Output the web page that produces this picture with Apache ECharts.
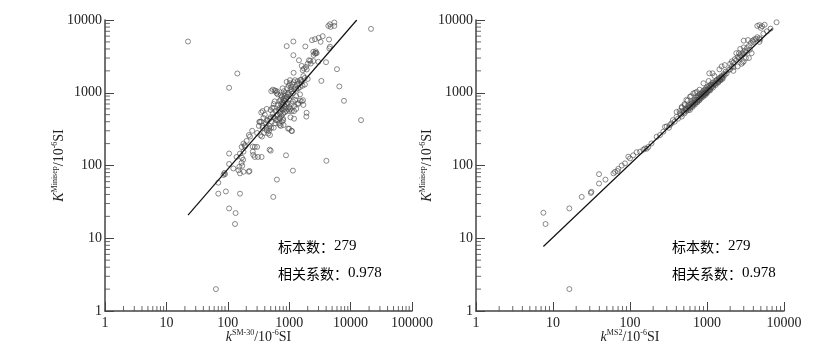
<!DOCTYPE html>
<html>
<head>
<meta charset="utf-8">
<script src="https://cdn.jsdelivr.net/npm/echarts@6/dist/echarts.min.js"></script>
<style>
html,body{margin:0;padding:0;background:#fff;}
#c{width:839px;height:358px;}
</style>
</head>
<body>
<div id="c"></div>
<script>
// ---- data ----
const leftPoints = [
[22.5,5060],[143,1840],[105,1170],[21500,7550],[14800,420],[4030,116],[7800,775],[6550,1220],[6000,2110],[3340,1455],[3980,2630],[64,2.0],[131,15.7],[134,22.2],[105,25.7],[70,41],[93,44],[158,41],[550,37],[630,64],[1150,85],[887,138],[480,165],[500,160],[1110,297],[1000,320],[1900,470],[1920,530],[1680,790],[910,4370],[1170,5060],[1170,3280],[1830,4330],
[4620,8750],[5430,9230],[4340,8300],[5430,8300],[4730,8050],[2350,5280],[2630,5450],[3020,5690],[3510,5990],[3250,5010],[4450,5390],[4510,4060],[4620,4290],[2470,3650],[2630,3460],[2730,3530],[2240,2520],[2980,2660],[2100,2800],[2470,2730],[1440,2800],[1600,2340],[1740,2150],[1880,2260],[1660,2040],[1930,2090],[1180,1880],[910,1410],[1030,1490],[1240,1490],[1370,1440],[1500,1490],[2000,2500],[2200,2750],[2500,3300],[2700,3700],[2800,3500],
[70,58],[85,74],[88,79],[90,76],[105,105],[123,91],[149,86],[158,78],[180,82],[154,96],[168,109],[225,84],[105,146],[139,131],[158,146],[180,155],[168,180],[203,218],[190,190],[180,200],[220,262],[254,182],[275,180],[300,180],[275,131],[310,131],[355,131],[255,155],[326,398],[369,350],[430,305],[455,275],[487,440],[550,465],[625,490],[705,440],[800,420],[960,322],[1090,300],[705,360],[334,398],[430,418],[487,262],[468,325],[350,536],[500,577],[172,99],[170,128],[178,120],[190,183],[230,250],[260,140],[220,82],[370,560],[430,600],[510,1050],[540,1100],[580,1080],
[420,380],[450,420],[480,350],[500,460],[520,400],[540,520],[560,330],[580,450],[600,560],[470,300],[510,330],[530,620],[560,700],[590,380],[430,330],[610,420],[620,990],[640,1040],[600,1060],[650,950],[580,760],[560,620],
[650,500],[680,580],[700,620],[720,540],[740,700],[760,650],[780,580],[800,720],[820,680],[840,600],[860,760],[880,820],[900,700],[700,450],[750,480],[800,520],[850,540],[720,800],[760,880],[800,950],[820,1050],[850,900],[870,640],[890,560],[660,680],[690,760],[730,920],[780,1150],[830,780],[870,980],[640,420],[680,380],[730,350],[760,400],[790,440],[810,360],[700,520],[740,600],[770,740],[810,820],
[920,880],[950,950],[980,1000],[1000,820],[1050,900],[1100,1050],[1150,980],[1200,1120],[1250,1200],[1300,1100],[950,720],[1000,640],[1050,600],[1100,700],[1150,760],[1200,650],[1250,800],[1300,900],[1350,1300],[1400,1150],[930,1150],[980,1250],[1020,1350],[1080,1200],[1120,1300],[1180,1400],[1050,1100],[960,600],[1000,560],[1100,560],[1200,560],[1300,600],[1400,700],[1500,780],[1600,760],[1700,680],[1050,460],[1200,440],[1400,720],[1500,950],
[1450,1350],[1550,1500],[1600,1400],[1700,1700],[1800,1600],[1500,1200],[1650,1250],[1800,1300],[2000,1550],
[250,300],[300,280],[320,350],[350,400],[370,330],[390,280],[340,260],[380,450],[400,500],[360,250]
];
const rightPoints = [
[7.5,22.4],[8.0,15.7],[16.3,25.7],[16.3,2.0],[23.6,37],[31,42],[31.5,43.5],[39.6,76],[39.6,56.5],[48,64],
[61,78],[64,82],[70.5,90],[69,84],[78,100],[86,107],[95,132],[100,125],[110,138],[122,152],[135,155],[149,165],[157,172],[165,170],[173,180],[190,201],[222,248],[245,262],[271,292],[285,340],[300,345],[330,360],[345,379],[360,420],[403,467],[445,520],[403,545],[470,640],[515,675],[540,800],[601,880],[665,980],[735,1030],[320,330],[380,400],[420,440],
[460,500],[480,560],[500,540],[520,600],[540,560],[560,650],[580,620],[600,640],[620,700],[640,660],[650,720],[660,680],[680,760],[700,720],[720,800],[740,760],[760,860],[780,820],[800,880],[820,850],[840,930],[860,900],[880,980],[900,940],[920,1000],[940,960],[960,1080],[980,1020],[1000,1100],[1020,1050],[1050,1150],[1080,1120],[1100,1220],[1130,1180],[1160,1300],[1200,1250],[1250,1400],[1300,1350],[1350,1500],[1400,1450],[1450,1600],[1500,1530],[1550,1700],[1600,1650],[1650,1800],[1700,1750],[1750,1950],[1800,1850],[1900,2050],[2000,2100],[2100,2300],[2200,2250],
[470,470],[510,520],[530,580],[550,600],[570,580],[590,680],[610,620],[630,740],[670,700],[690,800],[710,740],[730,860],[750,780],[770,920],[790,800],[810,960],[830,880],[850,1000],[870,920],[890,1050],[910,960],[930,1100],[950,1000],[970,1150],[990,1000],[1010,1200],[1040,1080],[1070,1250],[1090,1100],[1120,1300],[1150,1200],[1180,1380],[1220,1300],[1270,1320],[1320,1480],[1380,1400],[1430,1550],[1480,1500],[1530,1650],[1580,1600],
[600,580],[650,640],[700,690],[750,740],[800,790],[850,850],[900,890],[950,930],[1000,990],[1100,1080],[1200,1180],[1300,1280],[1400,1380],[1500,1480],[1600,1560],
[1070,1850],[1180,1850],[900,1350],[800,1100],[700,1000],[620,900],[560,780],[510,700],[470,620],[440,560],[1050,1450],[1250,1700],[1450,2100],[1550,2300],[1700,2400],
[2000,2500],[2100,2700],[2200,2600],[2300,2900],[2400,2800],[2500,3100],[2600,3000],[2700,3300],[2800,3200],[2900,3500],[3000,3400],[3100,3800],[3200,3600],[2200,2000],[2500,2300],[2800,2500],[3000,2700],[3200,3000],[2400,3500],[2700,4000],[3000,4200],[3300,4100],[3500,4400],[3700,4800],[3900,5200],[4100,5400],[4300,5500],[4500,5800],[3400,5300],[3000,5200],[4800,5000],[4900,5400],[4800,5600],[2600,3500],[3500,3000],[3800,3500],[4500,8300],[4800,8500],[5200,8200],[5600,8600],[6700,7600],[8000,9300],[5000,7800],[4000,5000],[3600,3900],[2900,2600],[5400,6500],[6000,7000]
];
const leftFit = [[22.5,20.8],[12600,10000]];
const rightFit = [[7.5,7.7],[7100,7650]];
const leftXTicks = [1,10,100,1000,10000,100000];
const rightXTicks = [1,10,100,1000,10000];
const yTicks = [1,10,100,1000,10000];
const minorSteps = [2,3,4,5,6,7,8,9];
const sampleCount = 279;
const corrCoef = '0.978';

// ---- build ----
function minors(ticks){
  const out=[];
  for(let i=0;i<ticks.length-1;i++){ for(const m of minorSteps){ out.push(ticks[i]*m); } }
  return out;
}
const serif = '"Liberation Serif","DejaVu Serif",serif';
const rich = {
  it:{fontStyle:'italic',fontSize:14,fontFamily:serif,color:'#222',lineHeight:16},
  sup:{fontSize:8,fontFamily:serif,color:'#222',verticalAlign:'top',lineHeight:16},
  n:{fontSize:14,fontFamily:serif,color:'#222',lineHeight:16}
};
const annRich = {
  c:{fontSize:14,fontFamily:'"Noto Sans CJK SC"',color:'#222'},
  d:{fontSize:15,fontFamily:'"Liberation Serif"',color:'#222'}
};
const axisColor = '#444';
function xAx(gi, ticks, name){
  return {
    type:'log', logBase:10, gridIndex:gi, min:ticks[0], max:ticks[ticks.length-1],
    name:name, nameLocation:'middle', nameGap:18, nameMoveOverlap:false, nameTextStyle:{rich:rich},
    axisLine:{show:true,lineStyle:{color:axisColor,width:1.5}},
    axisTick:{show:true,inside:true,length:9,lineStyle:{color:axisColor,width:1}},
    minorTick:{show:false}, splitLine:{show:false},
    axisLabel:{margin:5,fontSize:14,fontFamily:serif,color:'#222',formatter:v=>String(Math.round(v)),showMinLabel:true,showMaxLabel:true}
  };
}
function yAx(gi, name, gap){
  return {
    type:'log', logBase:10, gridIndex:gi, min:yTicks[0], max:yTicks[yTicks.length-1],
    name:name, nameLocation:'middle', nameGap:gap, nameMoveOverlap:false, nameRotate:90, nameTextStyle:{rich:rich},
    axisLine:{show:true,lineStyle:{color:axisColor,width:1.5}},
    axisTick:{show:true,inside:true,length:9,lineStyle:{color:axisColor,width:1}},
    minorTick:{show:false}, splitLine:{show:false},
    axisLabel:{margin:3,fontSize:14,fontFamily:serif,color:'#222',formatter:v=>String(Math.round(v)),showMinLabel:true,showMaxLabel:true}
  };
}
const ptStyle = {color:'rgba(0,0,0,0)',borderColor:'#4a4a4a',borderWidth:0.8};
function tickSeries(gi, xs, ys){
  return [
    {type:'scatter',xAxisIndex:gi,yAxisIndex:gi,silent:true,clip:false,symbol:'rect',symbolSize:[1,5],symbolOffset:[0,-2.5],
     itemStyle:{color:axisColor},data:minors(xs).map(v=>[v,ys[0]]),z:1},
    {type:'scatter',xAxisIndex:gi,yAxisIndex:gi,silent:true,clip:false,symbol:'rect',symbolSize:[5,1],symbolOffset:[2.5,0],
     itemStyle:{color:axisColor},data:minors(ys).map(v=>[xs[0],v]),z:1}
  ];
}
function ann(left, top, label, value){
  return {type:'text',left:left,top:top,style:{text:'{c|'+label+'：}{d|'+value+'}',rich:annRich}};
}
const yName = '{it|K}{sup|Minisep}{n|/10}{sup|-6}{n|SI}';
const option = {
  backgroundColor:'#fff',
  animation:false,
  grid:[
    {left:105,top:20,width:307,height:291,containLabel:false},
    {left:476,top:20,width:308,height:291,containLabel:false}
  ],
  xAxis:[xAx(0,leftXTicks,'{it|k}{sup|SM-30}{n|/10}{sup|-6}{n|SI}'), xAx(1,rightXTicks,'{it|k}{sup|MS2}{n|/10}{sup|-6}{n|SI}')],
  yAxis:[yAx(0,yName,38), yAx(1,yName,41)],
  series:[
    {type:'scatter',xAxisIndex:0,yAxisIndex:0,symbol:'circle',symbolSize:5,itemStyle:ptStyle,data:leftPoints,z:3},
    {type:'line',xAxisIndex:0,yAxisIndex:0,showSymbol:false,symbol:'none',lineStyle:{color:'#111',width:1.2},data:leftFit,z:4},
    {type:'scatter',xAxisIndex:1,yAxisIndex:1,symbol:'circle',symbolSize:5,itemStyle:ptStyle,data:rightPoints,z:3},
    {type:'line',xAxisIndex:1,yAxisIndex:1,showSymbol:false,symbol:'none',lineStyle:{color:'#111',width:1.2},data:rightFit,z:4},
    ...tickSeries(0,leftXTicks,yTicks),
    ...tickSeries(1,rightXTicks,yTicks)
  ],
  graphic:[
    ann(278,239,'标本数',String(sampleCount)),
    ann(278,266,'相关系数',corrCoef),
    ann(672,239,'标本数',String(sampleCount)),
    ann(672,266,'相关系数',corrCoef)
  ]
};
const chart = echarts.init(document.getElementById('c'),null,{renderer:'canvas'});
chart.setOption(option);
</script>
</body>
</html>
